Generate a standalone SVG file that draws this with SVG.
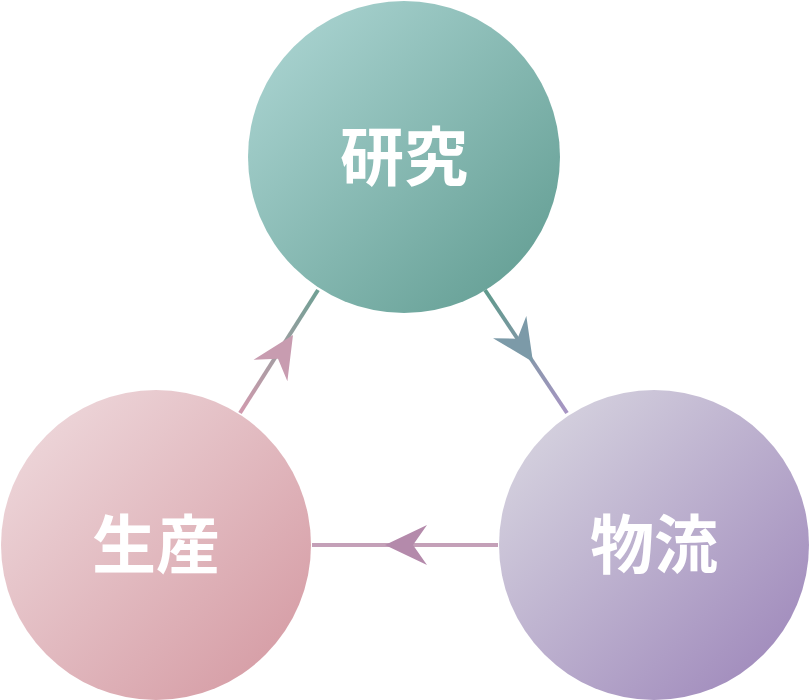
<svg xmlns="http://www.w3.org/2000/svg" width="810" height="700" viewBox="0 0 810 700">
<defs>
<linearGradient id="gT" x1="0" y1="0" x2="1" y2="1"><stop offset="0" stop-color="#b0d8d6"/><stop offset="1" stop-color="#5e9a8f"/></linearGradient>
<linearGradient id="gL" x1="0" y1="0" x2="1" y2="1"><stop offset="0" stop-color="#f0dde0"/><stop offset="1" stop-color="#d3969f"/></linearGradient>
<linearGradient id="gR" x1="0" y1="0" x2="1" y2="1"><stop offset="0" stop-color="#dcdbe3"/><stop offset="1" stop-color="#9a82b8"/></linearGradient>
<linearGradient id="cL" gradientUnits="userSpaceOnUse" x1="318" y1="290" x2="240" y2="413"><stop offset="0" stop-color="#6fa094"/><stop offset="1" stop-color="#d19aae"/></linearGradient>
<linearGradient id="cR" gradientUnits="userSpaceOnUse" x1="485" y1="290" x2="567" y2="413"><stop offset="0" stop-color="#5f9a8c"/><stop offset="1" stop-color="#a895c4"/></linearGradient>
<path id="ah" d="M0,0 L-42,-20 L-28,0 L-42,20 Z"/>
</defs>
<style>
.lbl{font-family:"Noto Sans CJK JP","Noto Sans CJK SC",sans-serif;font-weight:700;font-size:64px;fill:#fff;text-anchor:middle}
</style>
<g id="connectors">
<line x1="318" y1="290" x2="240" y2="413" stroke="url(#cL)" stroke-width="4"/>
<line x1="485" y1="290" x2="567" y2="413" stroke="url(#cR)" stroke-width="4"/>
<line x1="312" y1="545" x2="498" y2="545" stroke="#c4a0b8" stroke-width="4"/>
<use href="#ah" fill="#c89cb0" transform="translate(293,335) rotate(-57.6)"/>
<use href="#ah" fill="#7c9aa8" transform="translate(533,362) rotate(56.3)"/>
<use href="#ah" fill="#b48aab" transform="translate(385,545) rotate(180)"/>
</g>
<g id="research"><circle cx="404" cy="157" r="156" fill="url(#gT)"/><text class="lbl" x="404" y="180">研究</text></g>
<g id="production"><circle cx="156" cy="545" r="155" fill="url(#gL)"/><text class="lbl" x="156" y="568">生産</text></g>
<g id="logistics"><circle cx="654" cy="545" r="155" fill="url(#gR)"/><text class="lbl" x="654" y="568">物流</text></g>
</svg>
